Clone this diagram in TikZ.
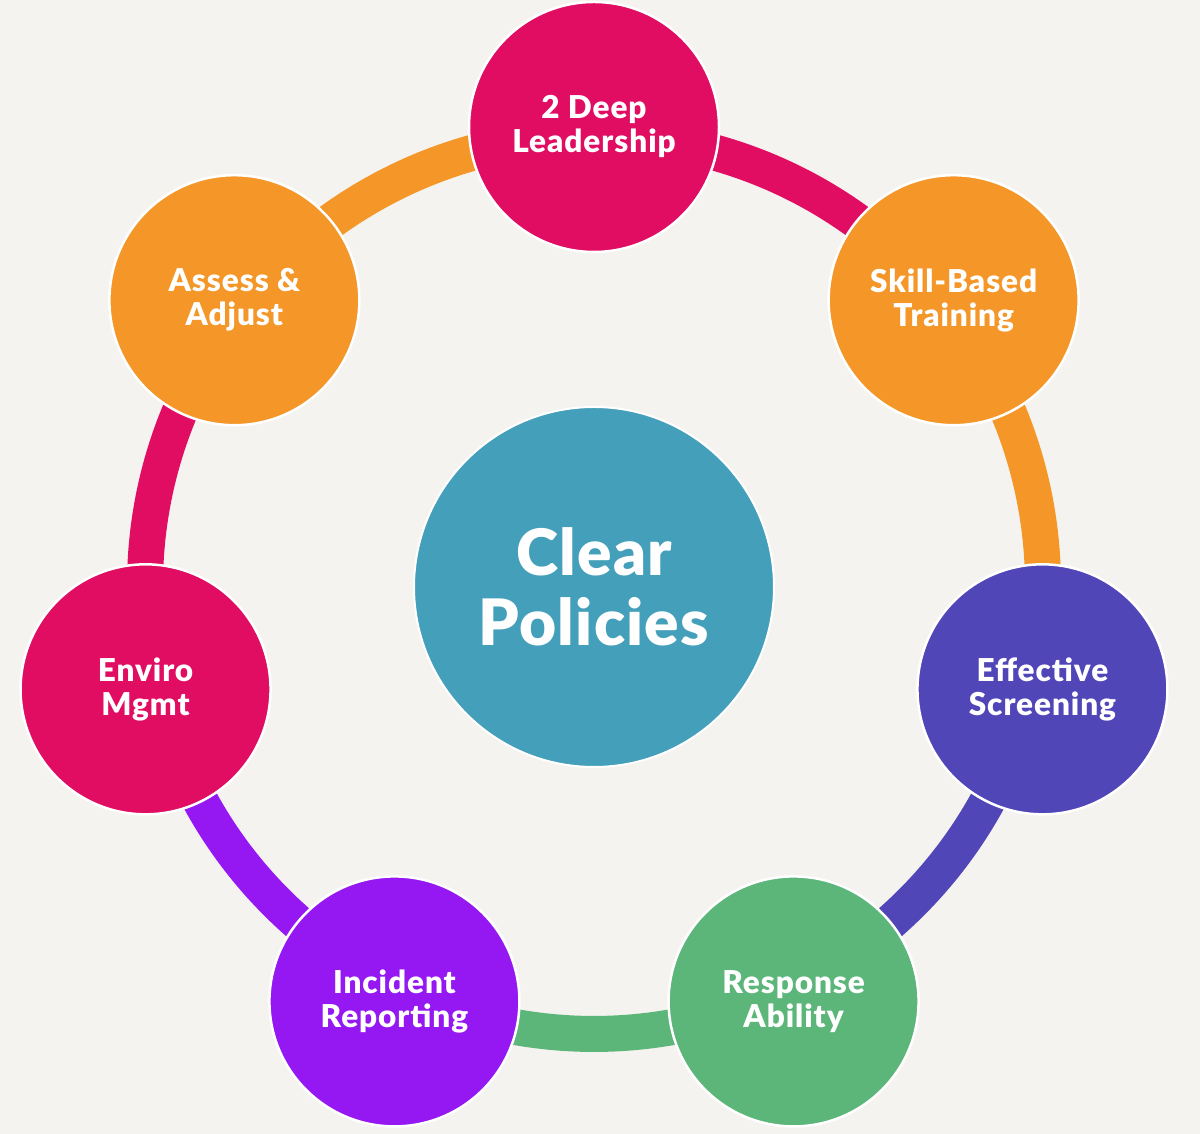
\documentclass[tikz,border=0pt]{standalone}
\usepackage{fontspec}
\setmainfont{Lato}
\newfontfamily\heavy{Lato Black}[LetterSpace=3]
\newfontfamily\heavyc{Lato Black}[LetterSpace=2]
\usetikzlibrary{calc}
\definecolor{bg}{HTML}{F5F3EF}
\definecolor{mag}{HTML}{E00D62}
\definecolor{ora}{HTML}{F49628}
\definecolor{tea}{HTML}{439FBA}
\definecolor{blu}{HTML}{5046B8}
\definecolor{grn}{HTML}{5CB67A}
\definecolor{vio}{HTML}{9518F3}
\begin{document}
\begin{tikzpicture}[x=1pt,y=1pt,
  item/.style={circle,minimum size=250pt,inner sep=0pt,draw=white,line width=2.5pt,
    text=white,align=center,font=\heavy\fontsize{31.5}{34}\selectfont},
  hub/.style={circle,minimum size=360pt,inner sep=0pt,draw=white,line width=2pt,
    text=white,align=center,font=\heavyc\fontsize{64}{70}\selectfont},
  seg/.style={line width=36pt}]
\fill[bg] (0,0) rectangle (1200,1134);
\useasboundingbox (0,0) rectangle (1200,1134);
\coordinate (O) at (594,547);
\coordinate (R) at (594,549);
\foreach \a/\c in {90/mag,38.571/ora,-12.857/blu,-64.286/grn,-115.714/vio,-167.143/mag,-218.571/ora}
  \draw[seg,\c] (R) ++(\a:449) arc[start angle=\a,end angle=\a-51.43,radius=449];
\node[item,fill=mag] (lead)   at ($(O)+(90:460)$)       {2 Deep\\Leadership};
\node[item,fill=ora] (skill)  at ($(O)+(38.571:460)$)   {Skill-Based\\Training};
\node[item,fill=blu] (screen) at ($(O)+(-12.857:460)$)  {Effective\\Screening};
\node[item,fill=grn] (resp)   at ($(O)+(-64.286:460)$)  {Response\\Ability};
\node[item,fill=vio] (incid)  at ($(O)+(-115.714:460)$) {Incident\\Reporting};
\node[item,fill=mag] (envi)   at ($(O)+(-167.143:460)$) {Enviro\\Mgmt};
\node[item,fill=ora] (assess) at ($(O)+(141.429:460)$)  {Assess \&\\Adjust};
\node[hub,fill=tea] (center) at (O) {Clear\\Policies};
\end{tikzpicture}
\end{document}
